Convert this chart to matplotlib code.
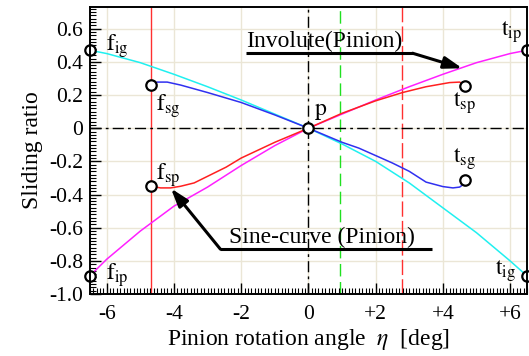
import numpy as np
import matplotlib
matplotlib.use('Agg')
import matplotlib.pyplot as plt
from matplotlib.ticker import FixedLocator, FixedFormatter, MultipleLocator

plt.rcParams['font.family'] = ['Liberation Serif', 'DejaVu Serif']
plt.rcParams['mathtext.fontset'] = 'stix'
plt.rcParams['axes.unicode_minus'] = False

# sliding ratio curves, pinion rotation angle eta [deg]
x_ig = [-6.5, -6.0, -5.0, -4.0, -3.0, -2.0, -1.0, 0.0, 1.0, 2.0, 3.0, 4.0, 5.0, 6.0, 6.5]
y_ig = [0.47, 0.45, 0.395, 0.325, 0.25, 0.17, 0.085, 0.0, -0.095, -0.2, -0.33, -0.48, -0.63, -0.80, -0.89]

x_ip = [-6.5, -6.0, -5.0, -4.0, -3.0, -2.0, -1.0, 0.0, 1.0, 2.0, 3.0, 4.0, 5.0, 6.0, 6.5]
y_ip = [-0.89, -0.79, -0.62, -0.47, -0.355, -0.225, -0.105, 0.0, 0.085, 0.17, 0.25, 0.325, 0.395, 0.45, 0.47]

x_sg = [-4.67, -4.5, -4.2, -3.8, -3.0, -2.0, -1.0, 0.0, 1.0, 1.5, 2.0, 2.5, 3.0, 3.5, 4.0, 4.3, 4.5, 4.6, 4.67]
y_sg = [0.26, 0.278, 0.278, 0.26, 0.215, 0.155, 0.08, 0.0, -0.085, -0.12, -0.165, -0.21, -0.26, -0.325, -0.352, -0.36, -0.355, -0.34, -0.31]

x_sp = [-4.67, -4.4, -4.1, -3.8, -3.4, -3.0, -2.45, -2.0, -1.0, 0.0, 1.0, 2.0, 2.8, 3.5, 4.2, 4.5, 4.67]
y_sp = [-0.35, -0.36, -0.36, -0.35, -0.33, -0.29, -0.235, -0.18, -0.085, 0.0, 0.09, 0.165, 0.215, 0.25, 0.275, 0.278, 0.255]

# contact limits and reference angles
eta_start = -4.67
eta_green = 0.95
eta_red = 2.78

x_ticks = [-6, -4, -2, 0, 2, 4, 6]
x_ticklabels = ['-6', '-4', '-2', '0', '+2', '+4', '+6']
y_ticks = [-1.0, -0.8, -0.6, -0.4, -0.2, 0.0, 0.2, 0.4, 0.6]
y_ticklabels = ['-1.0', '-0.8', '-0.6', '-0.4', '-0.2', '0', '0.2', '0.4', '0.6']

fig = plt.figure(figsize=(5.29, 3.56), dpi=100)
ax = fig.add_axes([0.170, 0.174, 0.826, 0.806])
ax.set_xlim(-6.5, 6.5)
ax.set_ylim(-1.0, 0.73)

gridc = '#ebe6d6'
for gx in x_ticks:
    ax.axvline(gx, color=gridc, lw=1.0, zorder=0)
for gy in y_ticks:
    ax.axhline(gy, color=gridc, lw=1.0, zorder=0)

ax.axvline(eta_start, color='#ff3030', lw=1.0, zorder=1)
ax.axvline(eta_green, color='#20e020', lw=1.0, ls=(0, (9, 4)), zorder=1)
ax.axvline(eta_red, color='#ff3030', lw=1.0, ls=(0, (11, 3)), zorder=1)

ax.plot(x_ig, y_ig, color='#20f0f0', lw=1.1, zorder=2)
ax.plot(x_ip, y_ip, color='#ff20ff', lw=1.1, zorder=2)
ax.plot(x_sg, y_sg, color='#3030f0', lw=1.1, zorder=3)
ax.plot(x_sp, y_sp, color='#ff2020', lw=1.1, zorder=3)

ax.axhline(0, color='k', lw=1.0, ls=(0, (8, 3, 2, 3)), zorder=4)
ax.axvline(0, color='k', lw=1.0, ls=(0, (8, 3, 2, 3)), zorder=4)

# end points of each path of contact
px = [x_ig[0], x_ig[-1], x_ip[0], x_ip[-1], x_sg[0], x_sg[-1], x_sp[0], x_sp[-1], 0.0]
py = [y_ig[0], y_ig[-1], y_ip[0], y_ip[-1], y_sg[0], y_sg[-1], y_sp[0], y_sp[-1], 0.0]
ax.plot(px, py, 'o', ms=7.5, mfc='white', mec='k', mew=1.6, zorder=6, clip_on=False)

fs = 17
lab = dict(fontsize=fs, ha='left', va='baseline', zorder=7)
ax.text(-6.02, 0.47, r'$\mathrm{f}_{\mathrm{ig}}$', **lab)
ax.text(-6.02, -0.915, r'$\mathrm{f}_{\mathrm{ip}}$', **lab)
ax.text(-4.52, 0.108, r'$\mathrm{f}_{\mathrm{sg}}$', **lab)
ax.text(-4.52, -0.313, r'$\mathrm{f}_{\mathrm{sp}}$', **lab)
ax.text(0.18, 0.078, r'$\mathrm{p}$', **lab)
ax.text(5.73, 0.56, r'$\mathrm{t}_{\mathrm{ip}}$', **lab)
ax.text(4.29, 0.128, r'$\mathrm{t}_{\mathrm{sp}}$', **lab)
ax.text(4.29, -0.21, r'$\mathrm{t}_{\mathrm{sg}}$', **lab)
ax.text(5.54, -0.886, r'$\mathrm{t}_{\mathrm{ig}}$', **lab)

# leader lines
ax.text(-1.85, 0.49, 'Involute(Pinion)', fontsize=fs, ha='left', va='baseline', zorder=7)
ax.plot([-1.85, 3.1], [0.452, 0.452], color='k', lw=2.2, zorder=7, solid_capstyle='butt')
ax.annotate('', xy=(4.58, 0.361), xytext=(3.1, 0.452),
            arrowprops=dict(arrowstyle='-|>,head_length=0.55,head_width=0.18', color='k',
                            lw=2.2, shrinkA=0, shrinkB=0, mutation_scale=20), zorder=7)

ax.text(-2.35, -0.69, 'Sine-curve (Pinion)', fontsize=fs, ha='left', va='baseline', zorder=7)
ax.plot([3.69, -2.62], [-0.729, -0.729], color='k', lw=2.2, zorder=7, solid_capstyle='butt')
ax.annotate('', xy=(-4.09, -0.363), xytext=(-2.62, -0.729),
            arrowprops=dict(arrowstyle='-|>,head_length=0.55,head_width=0.18', color='k',
                            lw=2.2, shrinkA=0, shrinkB=0, mutation_scale=20), zorder=7)

ax.xaxis.set_major_locator(FixedLocator(x_ticks))
ax.xaxis.set_major_formatter(FixedFormatter(x_ticklabels))
ax.xaxis.set_minor_locator(MultipleLocator(0.1))
ax.yaxis.set_major_locator(FixedLocator(y_ticks))
ax.yaxis.set_major_formatter(FixedFormatter(y_ticklabels))
ax.yaxis.set_minor_locator(MultipleLocator(0.02))

ax.tick_params(which='both', direction='in', top=False, right=False, labelsize=15.5)
ax.tick_params(which='major', length=8, width=1.0)
ax.tick_params(which='minor', length=4, width=0.8)
ax.tick_params(axis='x', pad=8)
ax.tick_params(axis='y', pad=5)
for s in ax.spines.values():
    s.set_linewidth(1.4)
    s.set_zorder(8)

ax.set_ylabel('Sliding ratio', fontsize=17, labelpad=4)
ax.set_xlabel(r'Pinion rotation angle  $\eta$  [deg]', fontsize=17, labelpad=2)

fig.savefig('out.png', dpi=100)
